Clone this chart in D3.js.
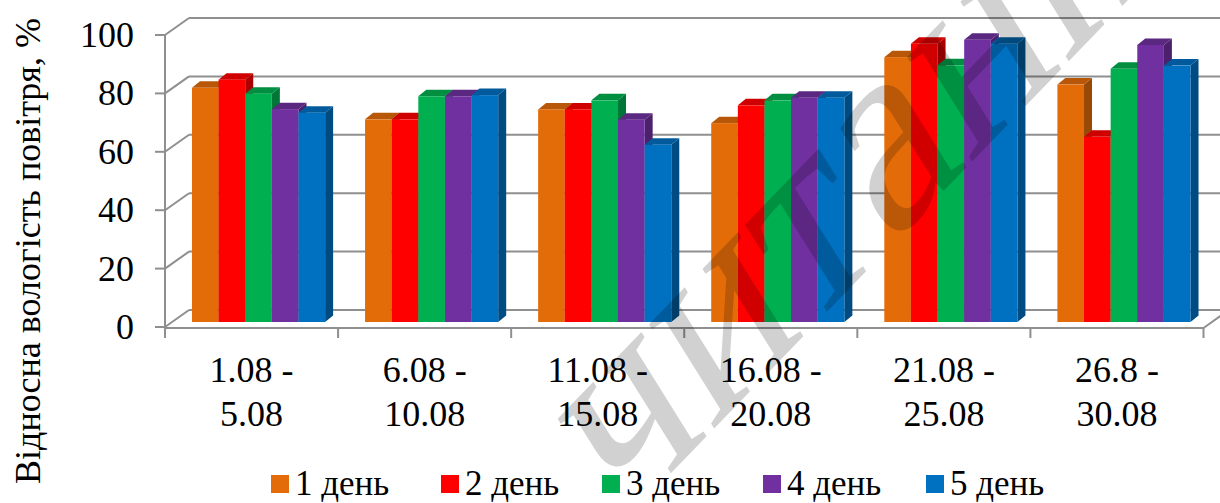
<!DOCTYPE html>
<html>
<head>
<meta charset="utf-8">
<script src="https://cdn.jsdelivr.net/npm/d3@7"></script>
</head>
<body style="margin:0">
<svg id="chart" width="1220" height="503"></svg>
<script>
// Relative air humidity by five-day period, one bar per day
const categories = ["1.08 - 5.08", "6.08 - 10.08", "11.08 - 15.08", "16.08 - 20.08", "21.08 - 25.08", "26.8 - 30.08"];
const seriesNames = ["1 день", "2 день", "3 день", "4 день", "5 день"];
const day1 = [80.2, 69.4, 72.8, 68.1, 90.7, 81.3];
const day2 = [83.0, 69.4, 72.8, 74.2, 95.3, 63.4];
const day3 = [78.2, 77.3, 75.9, 75.9, 87.9, 86.7];
const day4 = [72.9, 77.3, 69.3, 76.8, 96.7, 94.9];
const day5 = [71.7, 77.7, 60.7, 76.8, 95.3, 87.8];
const yTicks = [0, 20, 40, 60, 80, 100];
const colors = ["#E36C09", "#FF0000", "#00B050", "#7030A0", "#0070C0"];

const seriesValues = [day1, day2, day3, day4, day5];
const FONT = "Times New Roman";

const svg = d3.select("#chart");

// Front plane of the plot box and its depth offset
const front = { left: 165, right: 1203.5, bottom: 327, top: 35 };
const depth = { dx: 24, dy: -17 };
// Bars stand a little behind the front plane and have their own thickness
const barPlane = { dx: 7, dy: -5 };
const barDepth = { dx: 8, dy: -6.5 };

const x = d3.scaleBand().domain(categories).range([front.left, front.right]).padding(0);
const y = d3.scaleLinear().domain([0, 100]).range([front.bottom, front.top]);
// Five bars per group, gap between groups = 1.5 bar widths
const inner = d3.scaleBand().domain(d3.range(seriesNames.length))
  .range([0, x.bandwidth()]).paddingInner(0).paddingOuter(0.75);

const gridColor = "#8f8f8f";

// Walls: back wall gridlines + side wall connectors
const walls = svg.append("g").attr("fill", "none").attr("stroke", gridColor).attr("stroke-width", 2);
yTicks.forEach(t => {
  const yf = y(t);
  walls.append("line")
    .attr("x1", front.left + depth.dx).attr("y1", yf + depth.dy)
    .attr("x2", 1222).attr("y2", yf + depth.dy);
  walls.append("line")
    .attr("x1", front.left).attr("y1", yf)
    .attr("x2", front.left + depth.dx).attr("y2", yf + depth.dy);
});
// Value axis line
walls.append("line").attr("x1", front.left).attr("y1", front.top).attr("x2", front.left).attr("y2", front.bottom + 1);
// Floor front edge (category axis) and right edge
walls.append("line").attr("x1", front.left).attr("y1", front.bottom + 1).attr("x2", front.right).attr("y2", front.bottom + 1);
walls.append("line").attr("x1", front.right).attr("y1", front.bottom + 1).attr("x2", front.right + depth.dx).attr("y2", front.bottom + 1 + depth.dy);

// Value axis ticks and labels
yTicks.forEach(t => {
  svg.append("line").attr("x1", front.left - 10).attr("x2", front.left)
    .attr("y1", y(t)).attr("y2", y(t)).attr("stroke", gridColor).attr("stroke-width", 2);
  svg.append("text").attr("x", 134).attr("y", y(t) + 12).attr("font-size", 36)
    .attr("font-family", FONT).attr("text-anchor", "end").text(t);
});

// Category ticks at band boundaries
categories.concat([null]).forEach(c => {
  const xx = c === null ? front.right : x(c);
  svg.append("line").attr("stroke", gridColor).attr("stroke-width", 2)
    .attr("x1", xx).attr("x2", xx).attr("y1", front.bottom + 1).attr("y2", front.bottom + 11);
});

// Category labels (two lines each)
categories.forEach(c => {
  const parts = c.split(" - ");
  const cx = x(c) + x.bandwidth() / 2;
  svg.append("text").attr("x", cx).attr("y", 382).attr("font-size", 36)
    .attr("font-family", FONT).attr("text-anchor", "middle").text(parts[0] + " -");
  svg.append("text").attr("x", cx).attr("y", 426).attr("font-size", 36)
    .attr("font-family", FONT).attr("text-anchor", "middle").text(parts[1]);
});

// 3D columns
const shade = (c, k) => d3.rgb(c).darker(k).formatHex();
const bars = svg.append("g");
categories.forEach((c, ci) => {
  seriesNames.forEach((s, si) => {
    const v = seriesValues[si][ci];
    const x0 = x(c) + inner(si) + barPlane.dx;
    const w = inner.bandwidth();
    const yb = y(0) + barPlane.dy;
    const yt = y(v) + barPlane.dy;
    const g = bars.append("g");
    // side face
    g.append("path").attr("fill", shade(colors[si], 1.1))
      .attr("d", `M${x0 + w},${yb} L${x0 + w + barDepth.dx},${yb + barDepth.dy} L${x0 + w + barDepth.dx},${yt + barDepth.dy} L${x0 + w},${yt} Z`);
    // top face
    g.append("path").attr("fill", shade(colors[si], 0.6))
      .attr("d", `M${x0},${yt} L${x0 + barDepth.dx},${yt + barDepth.dy} L${x0 + w + barDepth.dx},${yt + barDepth.dy} L${x0 + w},${yt} Z`);
    // front face
    g.append("rect").attr("x", x0).attr("y", yt).attr("width", w).attr("height", yb - yt)
      .attr("fill", colors[si]);
  });
});

// Value axis title
svg.append("text").attr("font-size", 36).attr("font-family", FONT)
  .attr("transform", "translate(40,251) rotate(-90)")
  .attr("text-anchor", "middle")
  .text("Відносна вологість повітря, %");

// Legend
const legendX = [271, 441, 602, 763, 926];
seriesNames.forEach((s, i) => {
  svg.append("rect").attr("x", legendX[i]).attr("y", 475).attr("width", 18).attr("height", 18).attr("fill", colors[i]);
  svg.append("text").attr("x", legendX[i] + 24).attr("y", 495).attr("font-size", 35)
    .attr("font-family", FONT).text(s);
});

// Diagonal watermark
svg.append("text").attr("font-size", 260).attr("font-family", FONT)
  .attr("transform", "translate(900,150) rotate(-46) skewX(-14)")
  .attr("text-anchor", "middle").attr("dy", "0.23em")
  .attr("fill", "#000").attr("fill-opacity", 0.18)
  .text("читання");
</script>
</body>
</html>
